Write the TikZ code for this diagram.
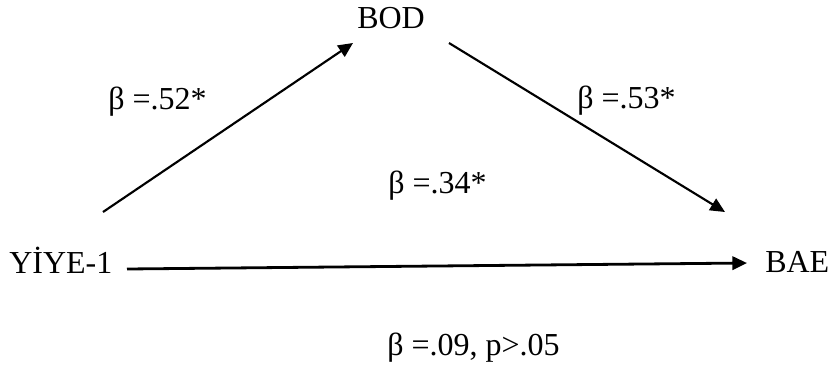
\documentclass[tikz,border=0pt]{standalone}
\usepackage{fontspec}
\setmainfont{Liberation Serif}
\usetikzlibrary{positioning,arrows.meta}
\tikzset{
  var/.style={inner sep=0pt, anchor=base west, font=\fontsize{24}{28}\selectfont},
  coef/.style={inner sep=0pt, anchor=base west, font=\fontsize{24}{28}\selectfont},
  path/.style={-{Triangle[length=11pt,width=10pt]}, line width=1.6pt, draw=black},
}

\begin{document}
\begin{tikzpicture}[x=0.75pt, y=-0.75pt]
  \useasboundingbox (0,0) rectangle (829,372);
  \node[var] (yiye) at (9,273) {YİYE-1};
  \node[var] (bod) at (357,28) {BOD};
  \node[var] (bae) at (765,272) {BAE};

  % ends of the paths
  \coordinate (ls) at (103,212);
  \coordinate (lt) at (353,43);
  \coordinate (rs) at (449,43);
  \coordinate (rt) at (725,212);
  \coordinate (hs) at (127,269);
  \coordinate (ht) at (747,263);

  \draw[path] (ls) -- (lt);
  \draw[path] (rs) -- (rt);
  \draw[path, line width=2.1pt] (hs) -- (ht);

  \node[coef] (a) at (108,109) {β =.52*};
  \node[coef] (b) at (577,108) {β =.53*};
  \node[coef] (c) at (388,193) {β =.34*};
  \node[coef] (d) at (387,355) {β =.09, p>.05};
\end{tikzpicture}
\end{document}
